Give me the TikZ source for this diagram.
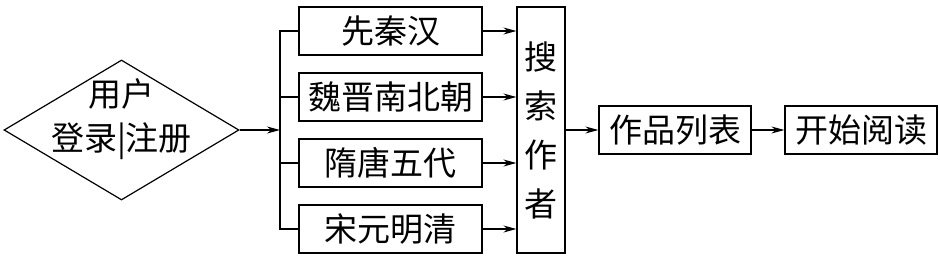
\documentclass[tikz,border=0pt]{standalone}
\usepackage{fontspec}
\newfontfamily\cjk{Noto Sans CJK SC}
\usetikzlibrary{shapes.geometric,arrows.meta}
\tikzset{
    erabox/.style={draw, minimum width=183pt, minimum height=48pt, inner sep=0pt},
    stepbox/.style={draw, minimum width=152pt, minimum height=48pt, inner sep=0pt},
    arrow/.style={-{Stealth[length=13pt,width=7pt]}}
}
\begin{document}
\begin{tikzpicture}[x=1pt, y=-1pt, line width=1.2pt, font=\cjk\fontsize{33}{44}\selectfont]
    \useasboundingbox (0,0) rectangle (940,257);
    \node[draw, diamond, minimum width=235pt, minimum height=140pt, inner sep=0pt] (login) at (121.5,130) {};
    \node[align=center, inner sep=0pt] (logintext) at (121.5,119) {用户\\登录|注册};
    \coordinate (split) at (280,130);
    \node[erabox] (qin) at (390.5,31) {先秦汉};
    \node[erabox] (wei) at (390.5,97) {魏晋南北朝};
    \node[erabox] (sui) at (390.5,163) {隋唐五代};
    \node[erabox] (song) at (390.5,229) {宋元明清};
    \node[draw, minimum width=48pt, minimum height=246pt, inner sep=0pt, align=center,
          font=\cjk\fontsize{33}{49}\selectfont] (search) at (541,130) {搜\\索\\作\\者};
    \node[stepbox] (list) at (675,130) {作品列表};
    \node[stepbox] (read) at (861,130) {开始阅读};
    \draw[arrow] (login.east) -- (split);
    \draw (qin.west) -| (split) |- (song.west);
    \draw (wei.west) -- (wei.west -| split);
    \draw (sui.west) -- (sui.west -| split);
    \foreach \era in {qin, wei, sui, song}
        \draw[arrow] (\era.east) -- (\era.east -| search.west);
    \draw[arrow] (search.east |- list.west) -- (list.west);
    \draw[arrow] (list.east) -- (read.west);
\end{tikzpicture}
\end{document}
